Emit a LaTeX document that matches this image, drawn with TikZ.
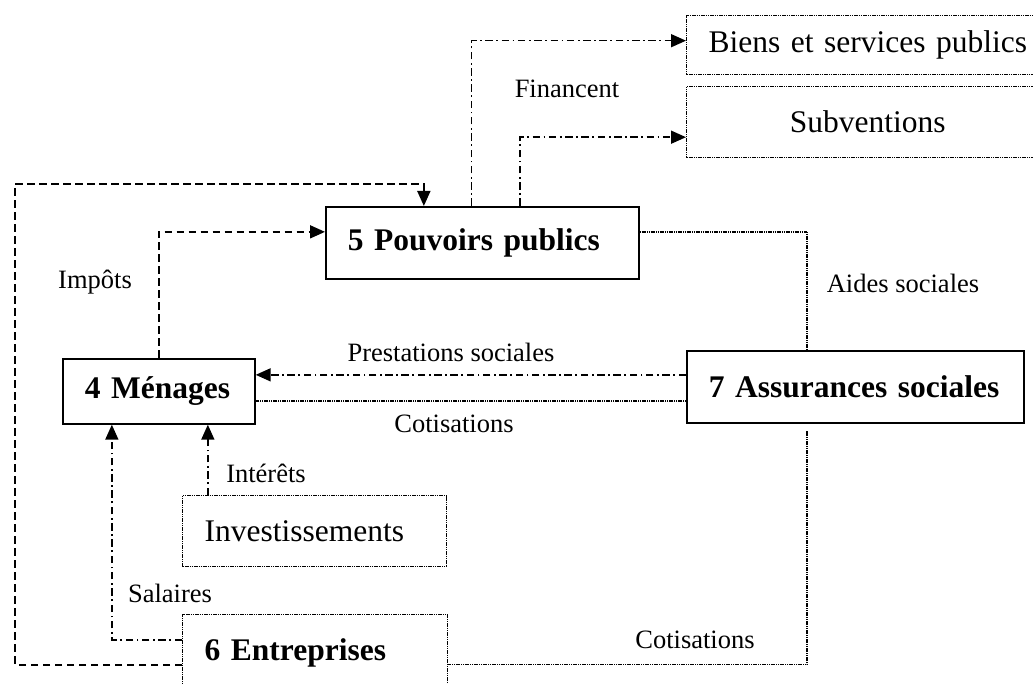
\documentclass[tikz,border=0pt]{standalone}
\usepackage{fontspec}
\setmainfont{Liberation Serif}
\usepackage{tikz}
\usetikzlibrary{arrows.meta}
\usetikzlibrary{calc}

\newcommand{\bigtxt}{\fontsize{31.5pt}{36pt}\selectfont}
\newcommand{\smalltxt}{\fontsize{26.5pt}{31pt}\selectfont}

\begin{document}
\begin{tikzpicture}[x=1pt,y=-1pt,
    plainbox/.style={draw,line width=1.7pt,anchor=north west,inner xsep=22pt,inner ysep=0pt,align=left,font=\bigtxt\bfseries},
    dotbox/.style={draw,line width=1.4pt,dash pattern=on 1.2pt off 0.6pt,anchor=north west,inner xsep=22pt,inner ysep=0pt,align=left,font=\bigtxt},
    dashline/.style={line width=1.7pt,dash pattern=on 7.5pt off 4.5pt},
    dashdotline/.style={line width=1.6pt,dash pattern=on 7.5pt off 3.5pt on 1.8pt off 3.5pt},
    dotline/.style={line width=1.4pt,dash pattern=on 1.2pt off 0.6pt},
    tip/.style={-{Triangle[length=15pt,width=13pt]}},
    lbl/.style={font=\smalltxt,inner sep=0pt}]
        \useasboundingbox (0,0) rectangle (1033,684);
        % les cases
        \node[plainbox,text width=269pt,minimum height=72pt] (pouvoirs) at (325,206) {5 Pouvoirs publics};
        \node[plainbox,text width=148pt,minimum height=65pt] (menages) at (62,358) {4 Ménages};
        \node[plainbox,text width=293pt,minimum height=72pt] (assurances) at (686,350) {7 Assurances sociales};
        \node[dotbox,text width=220pt,minimum height=71pt] (invest) at (182,495) {Investissements};
        \node[dotbox,text width=221pt,minimum height=77pt,font=\bigtxt\bfseries] (entreprises) at (182,614) {6 Entreprises};
        \node[dotbox,text width=330pt,minimum height=59pt] (biens) at (686,15) {Biens et services publics};
        \node[dotbox,text width=318pt,minimum height=71pt,align=center] (subv) at (686,86) {Subventions};
        % points auxiliaires
        \coordinate (loopcorner) at (15,184);
        \coordinate (interets) at ([xshift=49pt]menages.south);
        \coordinate (prest) at ([yshift=12pt]assurances.west);
        \coordinate (cotis) at ([yshift=-14pt]assurances.west);
        % les flux
        \draw[dashline,tip] (menages.north) |- ([yshift=11pt]pouvoirs.west);
        \draw[dashline,tip] ([yshift=-11.5pt]entreprises.west) -| (loopcorner) -| ([xshift=-58.5pt]pouvoirs.north);
        \draw[dashdotline,tip] ([yshift=13.5pt]entreprises.west) -| ([xshift=-47pt]menages.south);
        \draw[dashdotline,tip] (interets |- invest.north) -- (interets);
        \draw[dashdotline,tip] (prest) -- (prest -| menages.east);
        \draw[dotline] (cotis) -- (cotis -| menages.east);
        \draw[dotline] ([yshift=11pt]pouvoirs.east) -| ([xshift=-48.5pt]assurances.north);
        \draw[dotline,shorten >=7pt] ([yshift=-11.5pt]entreprises.east) -| ([xshift=-48.5pt]assurances.south);
        \draw[dashdotline,tip] ([xshift=-11pt]pouvoirs.north) |- ([yshift=4.5pt]biens.west);
        \draw[dashdotline,tip] ([xshift=37.5pt]pouvoirs.north) |- ([yshift=-15pt]subv.west);
        % les etiquettes
        \node[lbl] (lblimpots) at (95,282) {Impôts};
        \node[lbl] (lblfinancent) at (567,89) {Financent};
        \node[lbl] (lblaides) at (903,283) {Aides sociales};
        \node[lbl] (lblprest) at (451,352) {Prestations sociales};
        \node[lbl] (lblcotis) at (454,424) {Cotisations};
        \node[lbl] (lblinterets) at (266,473) {Intérêts};
        \node[lbl] (lblsalaires) at (170,593) {Salaires};
        \node[lbl] (lblcotisent) at (695,640) {Cotisations};
\end{tikzpicture}
\end{document}
